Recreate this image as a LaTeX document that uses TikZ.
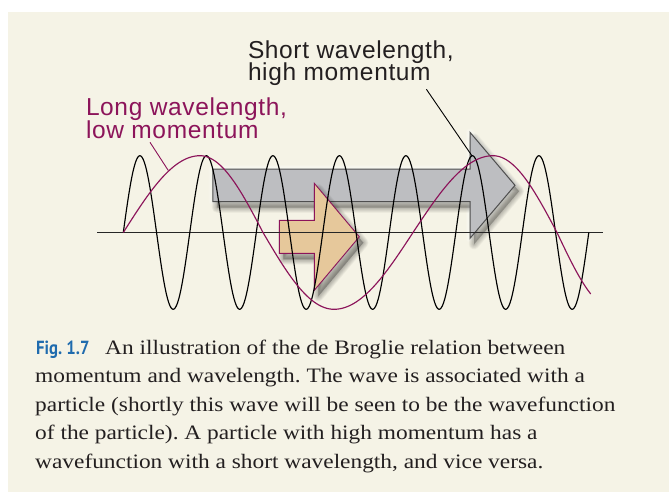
\documentclass[tikz,border=0pt]{standalone}
\usepackage{fontspec}
\setmainfont[FakeStretch=1.14]{Liberation Serif}
\newfontfamily\labelfont[LetterSpace=2.6]{Liberation Sans}
\newfontfamily\figfont[FakeStretch=0.88]{PT Sans}
\frenchspacing
\definecolor{cream}{HTML}{F5F3E6}
\definecolor{wavepurple}{HTML}{8C145A}
\definecolor{arrowgrey}{HTML}{BDBEC1}
\definecolor{arrowedge}{HTML}{4F4F4F}
\definecolor{tan}{HTML}{E6C89B}
\definecolor{figblue}{HTML}{1F6BAE}
\definecolor{inkdark}{HTML}{231F20}
\tikzset{
  pics/fatarrow/.style n args={4}{code={
    \path[pic actions] (0,-#1) -- (#2,-#1) -- (#2,-#3) -- ({#2+#4},0) -- (#2,#3) -- (#2,#1) -- (0,#1) -- cycle;}},
  labeltext/.style={inner sep=0pt, anchor=base west, font=\labelfont\fontsize{24.5}{24.5}\selectfont},
  captext/.style={inner sep=0pt, anchor=base west, text=inkdark, font=\fontsize{20.5}{20.5}\selectfont},
  blackwave/.style={draw=black, line width=1.15pt, smooth},
  purplewave/.style={draw=wavepurple, line width=1.15pt},
  leader/.style={line width=0.9pt},
}
\begin{document}
\begin{tikzpicture}[x=1pt,y=-1pt]
\useasboundingbox (0,0) rectangle (669,492);
\fill[white] (0,0) rectangle (669,492);
\fill[cream] (8,12) rectangle (669,492);

% grey arrow: glow, shadow, body
\foreach \i in {1,...,6}
  \pic[fill=white, draw=white, opacity=0.12, line width=\i*1.4pt, line join=round] at (212.9,185.3) {fatarrow={16.3}{257.1}{53}{45}};
\foreach \i in {1,...,8}
  \pic[fill=black, draw=black, opacity=0.03, line width=\i*1.3pt, line join=round] at (216.9,191.3) {fatarrow={16.3}{257.1}{53}{45}};
\pic[fill=arrowgrey, draw=arrowedge, line width=1pt] (greyarrow) at (212.9,185.3) {fatarrow={16.3}{257.1}{53}{45}};

% tan arrow: shadow, body
\foreach \i in {1,...,8}
  \pic[fill=black, draw=black, opacity=0.035, line width=\i*1.3pt, line join=round] at (283.3,242.8) {fatarrow={16.5}{35}{53.5}{45}};
\pic[fill=tan, draw=wavepurple, line width=0.9pt] (tanarrow) at (279.3,236.8) {fatarrow={16.5}{35}{53.5}{45}};

% axis
\coordinate (axisL) at (97,232.5);
\coordinate (axisR) at (603.3,232.5);
\draw[line width=1.2pt, draw=black!85] (axisL) -- (axisR);

% short wavelength wave (7 periods)
\draw[blackwave] plot[domain=0:2520, samples=421] ({123.3+\x/360*66.5},{232.5-76.8*sin(\x)});

% long wavelength wave (piecewise quarter waves)
\draw[purplewave]
  plot[domain=0:90, samples=30, smooth] ({123.3+76.7*\x/90},{232.5-76.8*sin(\x)})
  -- plot[domain=90:180, samples=30, smooth] ({200+63*(\x-90)/90},{232.5-76.8*sin(\x)})
  -- plot[domain=180:270, samples=30, smooth] ({263+71*(\x-180)/90},{232.5-76.8*sin(\x)})
  -- plot[domain=270:360, samples=30, smooth] ({334+79*(\x-270)/90},{232.5-76.8*sin(\x)})
  -- plot[domain=360:450, samples=30, smooth] ({413+80*(\x-360)/90},{232.5-76.8*sin(\x)})
  -- plot[domain=450:540, samples=30, smooth] ({493+64*(\x-450)/90},{232.5-76.8*sin(\x)})
  -- plot[domain=540:593.1, samples=20, smooth] ({557+57.1*(\x-540)/90},{232.5-76.8*sin(\x)});

% labels
\node[labeltext, text=inkdark] (short1) at (247.8,58.3) {Short wavelength,};
\node[labeltext, text=inkdark] (short2) at (247.8,81) {high momentum};
\node[labeltext, text=wavepurple] (long1) at (85.8,116) {Long wavelength,};
\node[labeltext, text=wavepurple] (long2) at (85.8,139) {low momentum};

\coordinate (shortfoot) at (426.4,89.3);
\coordinate (shortpeak) at (472.1,156);
\draw[leader, draw=black] (shortfoot) -- (shortpeak);
\coordinate (longfoot) at (150,142.3);
\coordinate (longwave) at (168.3,170.5);
\draw[leader, draw=wavepurple] (longfoot) -- (longwave);

% caption
\node[inner sep=0pt, anchor=base west, text=figblue, font=\figfont\bfseries\fontsize{19}{19}\selectfont] (fig) at (36,354) {Fig. 1.7};
\node[captext] (cap1) at (105,354) {An illustration of the de Broglie relation between};
\node[captext] (cap2) at (35,382.5) {momentum and wavelength. The wave is associated with a};
\node[captext] (cap3) at (35,411) {particle (shortly this wave will be seen to be the wavefunction};
\node[captext] (cap4) at (35,439.5) {of the particle). A particle with high momentum has a};
\node[captext] (cap5) at (35,468) {wavefunction with a short wavelength, and vice versa.};
\end{tikzpicture}
\end{document}
